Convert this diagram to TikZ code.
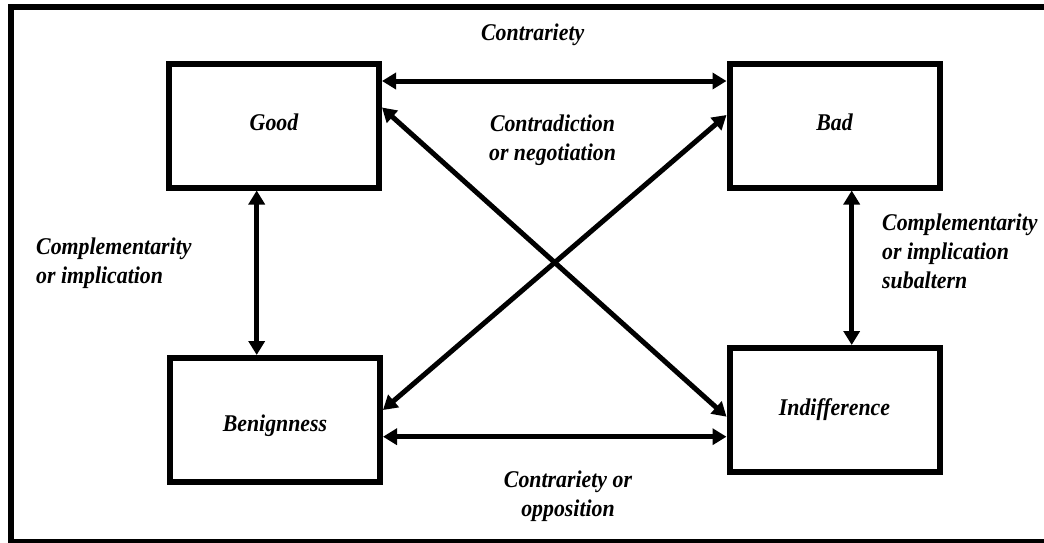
\documentclass[tikz,border=0pt]{standalone}
\usepackage{fontspec}
\setmainfont[FakeStretch=0.91]{Liberation Serif}
\usetikzlibrary{arrows.meta}
\begin{document}
\begin{tikzpicture}[x=1pt,y=-1pt,
  txt/.style={font=\bfseries\itshape\fontsize{24}{29}\selectfont},
  box/.style={txt,draw,line width=6pt,minimum width=210pt,minimum height=124pt,inner sep=0pt},
  lbl/.style={txt,inner sep=0pt},
  link/.style={line width=5pt,{Triangle[length=14pt,width=16pt]}-{Triangle[length=14pt,width=16pt]}}]
\clip (0,0) rectangle (1044,542);
\useasboundingbox (0,0) rectangle (1044,542);

% outer frame
\draw[line width=6pt] (11,7) rectangle (1052,542);

% the four terms
\node[box,text height=16pt,text depth=7pt] (good) at (274,125.5) {Good};
\node[box,text height=16pt,text depth=7pt] (bad) at (834.5,125.5) {Bad};
\node[box,text height=23.4pt,text depth=0pt] (benign) at (275,420) {Benignness};
\node[box,text height=16pt,text depth=6pt] (indiff) at (834.5,410) {Indifference};

% relations
\draw[link] ([yshift=44.5pt]good.east) -- ([yshift=44.5pt]bad.west);
\draw[link] ([yshift=18pt]good.east) -- ([yshift=-6.7pt]indiff.west);
\draw[link] ([yshift=10pt]benign.east) -- ([yshift=10.5pt]bad.west);
\draw[link] ([yshift=-16.7pt]benign.east) -- ([yshift=-26.7pt]indiff.west);
\draw[link] ([xshift=-17.3pt]good.south) -- ([xshift=-17.3pt]good.south |- benign.north);
\draw[link] ([xshift=17.2pt]bad.south) -- ([xshift=17.2pt]bad.south |- indiff.north);

% relation names
\node[lbl,anchor=base] (contr) at (532.7,40) {Contrariety};
\node[lbl,align=center] (contrad) at (552.5,140) {Contradiction\\or negotiation};
\node[lbl,align=left,anchor=west] (complL) at (36,263) {Complementarity\\or implication};
\node[lbl,align=left,anchor=west] (complR) at (882,251) {Complementarity\\or implication\\subaltern};
\node[lbl,align=center] (oppos) at (568,496.5) {Contrariety or\\opposition};
\end{tikzpicture}
\end{document}
